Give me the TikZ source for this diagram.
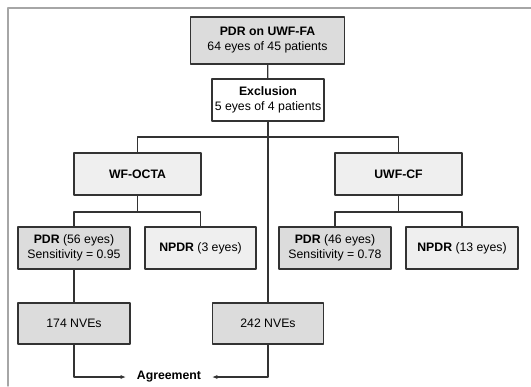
\documentclass[tikz,border=0pt]{standalone}
\usepackage{fontspec}
\setmainfont{Liberation Sans}
\usetikzlibrary{arrows.meta}

\definecolor{boxdark}{HTML}{DCDCDC}
\definecolor{boxlight}{HTML}{EFEFEF}
\definecolor{boxline}{HTML}{333333}

\begin{document}
\begin{tikzpicture}[
	x=0.75pt,
	y=-0.75pt,
	line cap=round,
	line join=round,
	>={Latex[length=4pt,width=3pt]},
	every node/.style={align=center, font=\fontsize{9.2pt}{11.3pt}\selectfont},
	flowbox/.style={
		shape=rectangle,
		draw=boxline,
		line width=1.1pt,
		inner sep=2pt,
		text centered
	},
	darkbox/.style={flowbox, fill=boxdark},
	lightbox/.style={flowbox, fill=boxlight},
	link/.style={draw=boxline, line width=1pt}
	]
	\useasboundingbox (0,0) rectangle (531,386);
	\draw [gray!70, line width=1.1pt] (8,386) -- (8,8) -- (531,8);

	% top of the flow
	\node [darkbox, minimum width=115.5pt, minimum height=35.25pt] (source) at (267.5,40.5) {
		\textbf{PDR on UWF-FA}
		\\
		64 eyes of 45 patients
	};
	\node [flowbox, fill=white, minimum width=83.25pt, minimum height=31.5pt] (exclusion) at (268,100) {
		\textbf{Exclusion}
		\\
		5 eyes of 4 patients
	};

	% the two imaging modalities
	\node [lightbox, minimum width=95.25pt, minimum height=31.5pt] (octa) at (137.5,174) {\textbf{WF-OCTA}};
	\node [lightbox, minimum width=95.25pt, minimum height=31.5pt] (colour) at (398.5,174) {\textbf{UWF-CF}};

	% results per modality
	\node [darkbox, minimum width=84pt, minimum height=31.5pt] (octapdr) at (74,248) {
		\textbf{PDR} (56 eyes)
		\\
		Sensitivity = 0.95
	};
	\node [lightbox, minimum width=83.25pt, minimum height=31.5pt] (octanpdr) at (200.5,248) {\textbf{NPDR} (3 eyes)};
	\node [darkbox, minimum width=84pt, minimum height=31.5pt] (colourpdr) at (335,248) {
		\textbf{PDR} (46 eyes)
		\\
		Sensitivity = 0.78
	};
	\node [lightbox, minimum width=84pt, minimum height=31.5pt] (colournpdr) at (462,248) {\textbf{NPDR} (13 eyes)};

	% vessel counts
	\node [darkbox, minimum width=84pt, minimum height=30.75pt] (octanve) at (74,323.5) {174 NVEs};
	\node [darkbox, minimum width=83.25pt, minimum height=30.75pt] (sourcenve) at (268,323.5) {242 NVEs};
	\node [inner xsep=8pt] (agreement) at (169,377) {\textbf{Agreement}};

	\coordinate (split) at (268,137);
	\coordinate (octasplit) at (137.5,212);
	\coordinate (coloursplit) at (398.5,212);

	\draw [link] (source) -- (exclusion);
	\draw [link] (exclusion) -- (sourcenve);
	\draw [link] (octa.north) |- (split) -| (colour.north);
	\draw [link] (octa) -- (octasplit);
	\draw [link] (colour) -- (coloursplit);
	\draw [link] (octapdr.north) |- (octasplit) -| (octanpdr.north);
	\draw [link] (colourpdr.north) |- (coloursplit) -| (colournpdr.north);
	\draw [link] (octapdr) -- (octanve);
	\draw [link, ->] (octanve.south) |- (agreement.west);
	\draw [link, ->] (sourcenve.south) |- (agreement.east);

\end{tikzpicture}
\end{document}
